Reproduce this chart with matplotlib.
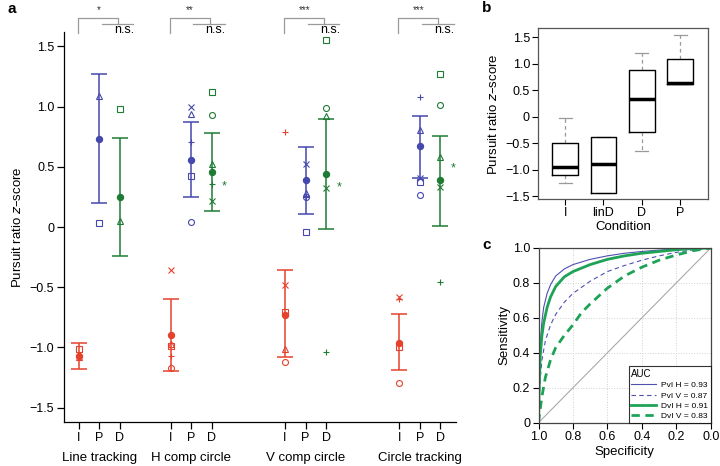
import numpy as np
import matplotlib
matplotlib.use('Agg')
import matplotlib.pyplot as plt
from matplotlib.lines import Line2D
import matplotlib.transforms as mtransforms

plt.rcParams['font.family'] = ['Liberation Sans', 'DejaVu Sans']
plt.rcParams['axes.unicode_minus'] = True

# ---------------- Panel a data ----------------
groups = ['Line tracking', 'H comp circle', 'V comp circle', 'Circle tracking']
conditions = ['I', 'P', 'D']
group_start = [1.0, 5.47, 11.05, 16.62]
subject_markers = ['o', '^', '+', 'x', 's']
nan = np.nan

mean_I = [-1.07, -0.90, -0.73, -0.96]
hi_I = [-0.96, -0.60, -0.36, -0.72]
lo_I = [-1.18, -1.20, -1.08, -1.19]
mean_P = [0.73, 0.56, 0.39, 0.67]
hi_P = [1.27, 0.87, 0.666, 0.92]
lo_P = [0.20, 0.25, 0.11, 0.41]
mean_D = [0.25, 0.46, 0.44, 0.39]
hi_D = [0.74, 0.78, 0.90, 0.76]
lo_D = [-0.24, 0.135, -0.02, 0.01]

# subject points, order: circle, triangle, plus, x, square
pts_I = [[nan, -1.08, nan, nan, -1.01],
         [-1.17, -0.97, -1.07, -0.36, -0.99],
         [-1.12, -1.01, 0.79, -0.48, -0.71],
         [-1.30, nan, -0.60, -0.58, -1.00]]
pts_P = [[nan, 1.09, nan, nan, 0.03],
         [0.04, 0.94, 0.71, 1.00, 0.42],
         [0.25, 0.28, 0.25, 0.52, -0.04],
         [0.27, 0.81, 1.08, 0.41, 0.37]]
pts_D = [[nan, 0.05, nan, nan, 0.98],
         [0.93, 0.52, 0.36, 0.22, 1.12],
         [0.985, 0.92, -1.04, 0.32, 1.55],
         [1.01, 0.58, -0.46, 0.33, 1.27]]

star_y = [nan, 0.34, 0.33, 0.49]
sig_labels = ['*', '**', '***', '***']
yticks_a = [1.5, 1.0, 0.5, 0, -0.5, -1.0, -1.5]
ytick_labels_a = ['1.5', '1.0', '0.5', '0', '\u22120.5', '\u22121.0', '\u22121.5']

# ---------------- Panel b data ----------------
box_labels = ['I', 'linD', 'D', 'P']
box_whislo = [-1.25, -1.43, -0.64, 0.62]
box_q1 = [-1.09, -1.43, -0.29, 0.62]
box_med = [-0.94, -0.89, 0.33, 0.64]
box_q3 = [-0.49, -0.38, 0.89, 1.09]
box_whishi = [-0.03, -0.38, 1.21, 1.54]

# ---------------- Panel c data ----------------
pvi_h_spec = [1.0, 0.997, 0.993, 0.99, 0.98, 0.97, 0.95, 0.93, 0.90, 0.85, 0.80, 0.70, 0.60, 0.50, 0.40, 0.30, 0.20, 0.10, 0.0]
pvi_h_sens = [0.0, 0.20, 0.35, 0.45, 0.58, 0.66, 0.74, 0.79, 0.84, 0.88, 0.905, 0.935, 0.955, 0.97, 0.98, 0.988, 0.994, 0.998, 1.0]
dvi_h_spec = [1.0, 0.997, 0.993, 0.99, 0.98, 0.97, 0.95, 0.93, 0.90, 0.85, 0.80, 0.70, 0.60, 0.50, 0.40, 0.30, 0.20, 0.10, 0.0]
dvi_h_sens = [0.0, 0.16, 0.29, 0.38, 0.50, 0.57, 0.66, 0.72, 0.78, 0.835, 0.865, 0.905, 0.935, 0.955, 0.97, 0.98, 0.99, 0.997, 1.0]
pvi_v_spec = [1.0, 0.995, 0.99, 0.98, 0.96, 0.93, 0.90, 0.85, 0.80, 0.70, 0.60, 0.50, 0.40, 0.30, 0.20, 0.10, 0.0]
pvi_v_sens = [0.0, 0.15, 0.25, 0.36, 0.47, 0.56, 0.62, 0.69, 0.74, 0.81, 0.865, 0.90, 0.93, 0.955, 0.975, 0.99, 1.0]
dvi_v_spec = [1.0, 0.99, 0.98, 0.96, 0.93, 0.90, 0.85, 0.80, 0.75, 0.70, 0.60, 0.50, 0.40, 0.30, 0.20, 0.10, 0.0]
dvi_v_sens = [0.0, 0.08, 0.15, 0.26, 0.36, 0.43, 0.50, 0.56, 0.63, 0.68, 0.77, 0.84, 0.89, 0.93, 0.96, 0.985, 1.0]
auc_labels = ['PvI H = 0.93', 'PvI V = 0.87', 'DvI H = 0.91', 'DvI V = 0.83']

RED = '#e5412d'
BLUE = '#4548ad'
GREEN = '#1f7a33'
ROC_BLUE = '#5050b0'
ROC_GREEN = '#1ea356'
GRAY = '#9a9a9a'

fig = plt.figure(figsize=(7.2, 4.66), dpi=100)

# ================= Panel a =================
ax = fig.add_axes([64/720, 1-422/466, (456-64)/720, (422-32)/466])
cond_colors = [RED, BLUE, GREEN]
all_means = [mean_I, mean_P, mean_D]
all_hi = [hi_I, hi_P, hi_D]
all_lo = [lo_I, lo_P, lo_D]
all_pts = [pts_I, pts_P, pts_D]
xt, xl = [], []
for g in range(len(groups)):
    for c in range(3):
        x = group_start[g] + c
        xt.append(x); xl.append(conditions[c])
        col = cond_colors[c]
        m = all_means[c][g]
        ax.errorbar([x], [m], yerr=[[m - all_lo[c][g]], [all_hi[c][g] - m]],
                    fmt='o', color=col, ms=4.3, elinewidth=1.1, capsize=5.6,
                    capthick=1.1, zorder=3)
        for k, mk in enumerate(subject_markers):
            v = all_pts[c][g][k]
            if np.isnan(v):
                continue
            if mk in ('+', 'x'):
                ax.plot([x], [v], marker=mk, color=col, ms=5, mew=0.8, ls='none', zorder=4)
            else:
                ax.plot([x], [v], marker=mk, mfc='none', mec=col, ms=4.3, mew=0.8, ls='none', zorder=4)
    if not np.isnan(star_y[g]):
        ax.text(group_start[g] + 2.62, star_y[g], '*', color=GREEN, fontsize=9,
                ha='center', va='center')
    # significance brackets
    xI = group_start[g]
    ax.plot([xI - 0.05, xI - 0.05, xI + 1.9, xI + 1.9], [1.615, 1.735, 1.735, 1.69],
            color=GRAY, lw=0.9, clip_on=False)
    ax.plot([xI + 1.1, xI + 2.65], [1.685, 1.685], color=GRAY, lw=0.9, clip_on=False)
    ax.text(xI + 0.95, 1.80, sig_labels[g], fontsize=7, ha='center', va='center', color='#333333')
    ax.text(xI + 2.2, 1.635, 'n.s.', fontsize=9, ha='center', va='center')

ax.set_xlim(0.27, 19.39)
ax.set_ylim(-1.62, 1.62)
ax.set_xticks(xt)
ax.set_xticklabels(xl, fontsize=9)
ax.set_yticks(yticks_a)
ax.set_yticklabels(ytick_labels_a, fontsize=9)
ax.tick_params(direction='out', length=5, width=0.9, pad=2)
for s in ['top', 'right']:
    ax.spines[s].set_visible(False)
for s in ['left', 'bottom']:
    ax.spines[s].set_linewidth(0.9)
trans = mtransforms.blended_transform_factory(ax.transData, ax.transAxes)
for g in range(len(groups)):
    ax.text(group_start[g] + 1, -0.092, groups[g], transform=trans, fontsize=9.5,
            ha='center', va='center')
ax.set_ylabel('Pursuit ratio $z$\u2013score', fontsize=9.5, labelpad=4)
fig.text(8/720, 1-9/466, 'a', fontsize=11, fontweight='bold', ha='left', va='center')

# ================= Panel b =================
axb = fig.add_axes([538.3/720, 1-199/466, (707.7-538.3)/720, (199-28.3)/466])
stats = []
for i in range(len(box_labels)):
    stats.append(dict(whislo=box_whislo[i], q1=box_q1[i], med=box_med[i],
                      q3=box_q3[i], whishi=box_whishi[i], label=box_labels[i]))
axb.bxp(stats, positions=range(1, 5), widths=0.67, showfliers=False,
        boxprops=dict(color='black', lw=1.0, zorder=3),
        medianprops=dict(color='black', lw=2.5, zorder=4),
        whiskerprops=dict(color=GRAY, lw=0.9, ls=(0, (3, 2.5)), zorder=1),
        capprops=dict(color=GRAY, lw=0.9, zorder=1))
axb.set_xlim(0.3, 4.72)
axb.set_ylim(-1.55, 1.67)
axb.set_yticks(yticks_a)
axb.set_yticklabels(ytick_labels_a, fontsize=9)
axb.set_xticks(range(1, 5))
axb.set_xticklabels(box_labels, fontsize=9)
axb.tick_params(direction='out', length=4, width=0.8, pad=2)
for s in axb.spines.values():
    s.set_color('#555555'); s.set_linewidth(0.9)
axb.set_xlabel('Condition', fontsize=9.5, labelpad=1)
axb.set_ylabel('Pursuit ratio $z$\u2013score', fontsize=9.5, labelpad=4)
fig.text(482/720, 1-8/466, 'b', fontsize=11, fontweight='bold', ha='left', va='center')

# ================= Panel c =================
axc = fig.add_axes([538.5/720, 1-422.7/466, (710.7-538.5)/720, (422.7-248)/466])
axc.grid(True, color='#d0d0d0', ls=':', lw=0.7)
axc.set_axisbelow(True)
axc.plot([1, 0], [0, 1], color='#aaaaaa', lw=0.8)
l1, = axc.plot(pvi_h_spec, pvi_h_sens, color=ROC_BLUE, lw=0.8, ls='-')
l2, = axc.plot(pvi_v_spec, pvi_v_sens, color=ROC_BLUE, lw=0.8, ls=(0, (4, 3)))
l3, = axc.plot(dvi_h_spec, dvi_h_sens, color=ROC_GREEN, lw=2.0, ls='-')
l4, = axc.plot(dvi_v_spec, dvi_v_sens, color=ROC_GREEN, lw=2.0, ls=(0, (3, 2)))
axc.set_xlim(1.0, 0.0)
axc.set_ylim(0, 1.0)
axc.set_xticks([1.0, 0.8, 0.6, 0.4, 0.2, 0.0])
axc.set_xticklabels(['1.0', '0.8', '0.6', '0.4', '0.2', '0.0'], fontsize=9)
axc.set_yticks([0, 0.2, 0.4, 0.6, 0.8, 1.0])
axc.set_yticklabels(['0', '0.2', '0.4', '0.6', '0.8', '1.0'], fontsize=9)
axc.tick_params(direction='out', length=4, width=0.8, pad=2)
for s in axc.spines.values():
    s.set_color('#444444'); s.set_linewidth(0.9)
axc.set_xlabel('Specificity', fontsize=9.5, labelpad=2)
axc.set_ylabel('Sensitivity', fontsize=9.5, labelpad=2)
leg = axc.legend([l1, l2, l3, l4], auc_labels, loc='lower right', fontsize=6,
                 title='AUC', title_fontsize=7, frameon=True, fancybox=False,
                 edgecolor='black', handlelength=3.0, borderpad=0.3,
                 labelspacing=0.3, borderaxespad=0.0, handletextpad=0.6)
leg._legend_box.align = 'left'
leg.get_frame().set_linewidth(0.8)
fig.text(482/720, 1-245/466, 'c', fontsize=11, fontweight='bold', ha='left', va='center')

fig.savefig('out.png', dpi=100)
